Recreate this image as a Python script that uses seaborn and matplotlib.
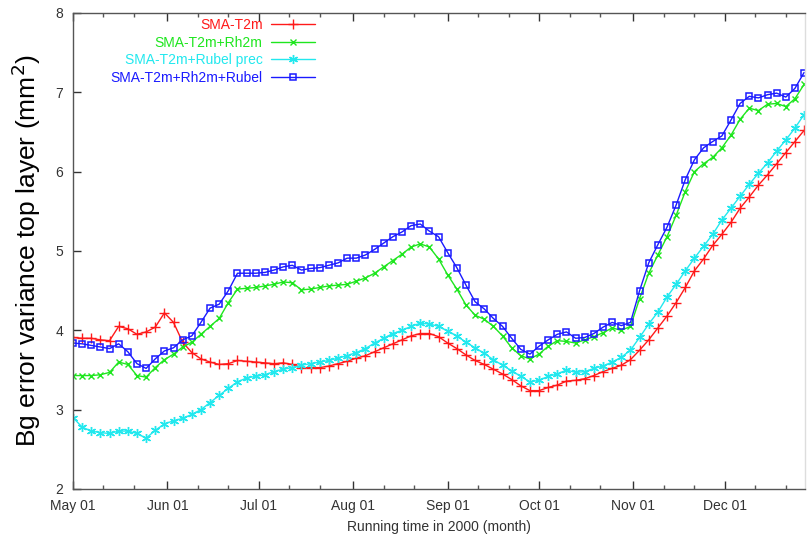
import numpy as np
import pandas as pd
import matplotlib
matplotlib.use("Agg")
import matplotlib.pyplot as plt
import matplotlib.dates as mdates
import seaborn as sns

# ---- data (every 3 days starting 2000-05-01) ----
start_date = "2000-05-01"
step_days = 3

sma_t2m = [3.91, 3.90, 3.90, 3.88, 3.87, 4.05, 4.02, 3.95, 3.98, 4.04,
           4.22, 4.10, 3.85, 3.72, 3.64, 3.60, 3.57, 3.58, 3.62, 3.61,
           3.60, 3.59, 3.58, 3.59, 3.57, 3.53, 3.53, 3.53, 3.55, 3.58,
           3.61, 3.65, 3.68, 3.73, 3.78, 3.83, 3.88, 3.93, 3.96, 3.96,
           3.92, 3.84, 3.77, 3.69, 3.62, 3.57, 3.51, 3.45, 3.38, 3.30,
           3.24, 3.24, 3.28, 3.31, 3.36, 3.37, 3.39, 3.43, 3.48, 3.52,
           3.56, 3.63, 3.75, 3.88, 4.03, 4.18, 4.35, 4.54, 4.75, 4.90,
           5.07, 5.21, 5.36, 5.54, 5.68, 5.83, 5.96, 6.10, 6.24, 6.38,
           6.52]

sma_t2m_rh2m = [3.43, 3.43, 3.43, 3.44, 3.47, 3.60, 3.57, 3.43, 3.41, 3.53,
                3.63, 3.70, 3.79, 3.85, 3.95, 4.05, 4.15, 4.35, 4.52, 4.53,
                4.54, 4.56, 4.58, 4.61, 4.60, 4.51, 4.52, 4.54, 4.56, 4.57,
                4.58, 4.62, 4.66, 4.72, 4.80, 4.88, 4.96, 5.05, 5.09, 5.05,
                4.90, 4.70, 4.52, 4.32, 4.19, 4.14, 4.05, 3.93, 3.78, 3.68,
                3.64, 3.70, 3.80, 3.87, 3.86, 3.84, 3.88, 3.92, 3.97, 4.03,
                4.00, 4.05, 4.40, 4.72, 4.95, 5.18, 5.45, 5.75, 6.00, 6.10,
                6.18, 6.30, 6.46, 6.66, 6.80, 6.77, 6.85, 6.86, 6.82, 6.92,
                7.10]

sma_t2m_rubel_prec = [2.90, 2.78, 2.73, 2.71, 2.70, 2.73, 2.73, 2.70, 2.64, 2.74,
                      2.82, 2.86, 2.89, 2.94, 3.00, 3.09, 3.18, 3.27, 3.35, 3.40,
                      3.42, 3.44, 3.48, 3.51, 3.53, 3.56, 3.58, 3.60, 3.62, 3.65,
                      3.68, 3.72, 3.77, 3.84, 3.90, 3.96, 4.00, 4.05, 4.09, 4.08,
                      4.05, 3.99, 3.93, 3.85, 3.78, 3.71, 3.63, 3.56, 3.49, 3.42,
                      3.35, 3.37, 3.42, 3.45, 3.50, 3.47, 3.48, 3.52, 3.55, 3.60,
                      3.66, 3.75, 3.91, 4.08, 4.23, 4.42, 4.58, 4.75, 4.91, 5.06,
                      5.21, 5.39, 5.54, 5.69, 5.84, 5.98, 6.11, 6.26, 6.40, 6.55,
                      6.72]

sma_t2m_rh2m_rubel = [3.84, 3.83, 3.81, 3.79, 3.77, 3.83, 3.73, 3.58, 3.52, 3.64,
                      3.74, 3.78, 3.88, 3.93, 4.10, 4.28, 4.33, 4.50, 4.72, 4.72,
                      4.72, 4.73, 4.76, 4.80, 4.82, 4.76, 4.78, 4.79, 4.82, 4.85,
                      4.91, 4.91, 4.95, 5.02, 5.10, 5.18, 5.24, 5.32, 5.34, 5.25,
                      5.18, 4.98, 4.79, 4.57, 4.36, 4.27, 4.15, 4.05, 3.90, 3.76,
                      3.70, 3.80, 3.88, 3.95, 3.98, 3.90, 3.91, 3.96, 4.04, 4.10,
                      4.06, 4.10, 4.50, 4.85, 5.08, 5.30, 5.58, 5.90, 6.15, 6.30,
                      6.38, 6.45, 6.65, 6.86, 6.95, 6.93, 6.97, 6.99, 6.94, 7.05,
                      7.25]

labels = ["SMA-T2m", "SMA-T2m+Rh2m", "SMA-T2m+Rubel prec", "SMA-T2m+Rh2m+Rubel"]
y_ticks = [2, 3, 4, 5, 6, 7, 8]

dates = pd.date_range(start_date, periods=len(sma_t2m), freq=f"{step_days}D")

# ---- styling ----
sns.set_style("ticks")
plt.rcParams["font.family"] = ["Liberation Sans", "DejaVu Sans"]

fig = plt.figure(figsize=(8.07, 5.37), dpi=100)
ax = fig.add_axes([73 / 807, 1 - 489 / 537, (805 - 73) / 807, (489 - 13) / 537])

colors = ["#ff1a1a", "#1ee61e", "#22e8ee", "#1a1aff"]
marker_styles = [
    dict(marker="+", markersize=6.5, markeredgewidth=1.0),
    dict(marker="x", markersize=4.5, markeredgewidth=1.0),
    dict(marker=(6, 2, 0), markersize=6.5, markeredgewidth=1.0),
    dict(marker="s", markersize=5, markerfacecolor="none", markeredgewidth=1.1),
]
series = [sma_t2m, sma_t2m_rh2m, sma_t2m_rubel_prec, sma_t2m_rh2m_rubel]

for vals, lab, col, st in zip(series, labels, colors, marker_styles):
    df = pd.DataFrame({"date": dates, "value": vals})
    sns.lineplot(data=df, x="date", y="value", ax=ax, label=lab,
                 color=col, markeredgecolor=col, linewidth=1.0,
                 linestyle="-", **st)

ax.set_xlim(pd.Timestamp("2000-05-01"), dates[-1] + pd.Timedelta(days=0.3))
ax.set_ylim(2, 8)
ax.set_yticks(y_ticks)

ax.xaxis.set_major_locator(mdates.MonthLocator())
ax.xaxis.set_major_formatter(mdates.DateFormatter("%b %d"))
ax.xaxis.set_minor_locator(mdates.DayLocator(bymonthday=[11, 21]))

for side in ["left", "bottom", "top", "right"]:
    ax.spines[side].set_visible(True)
    ax.spines[side].set_color("#555555")
    ax.spines[side].set_linewidth(1.0)
ax.spines["right"].set_color("#dddddd")

ax.tick_params(axis="both", which="major", direction="in", length=6,
               width=1, color="#333333", labelsize=10, labelcolor="#333333",
               top=True, right=False, pad=7)
ax.tick_params(axis="x", which="minor", direction="in", length=3,
               width=1, color="#555555", top=True)

ax.set_xlabel("Running time in 2000 (month)", fontsize=10, color="#333333",
              labelpad=5)
ax.set_ylabel("Bg error variance top layer (mm$^2$)", fontsize=19,
              color="black", labelpad=9)

leg = ax.legend(loc="upper right", bbox_to_anchor=(0.335, 0.995),
                frameon=False, markerfirst=False, fontsize=10,
                labelcolor="linecolor", handlelength=3.2, handletextpad=0.6,
                labelspacing=0.25, borderaxespad=0, borderpad=0.2)

fig.savefig("out.png", dpi=100, facecolor="white")
